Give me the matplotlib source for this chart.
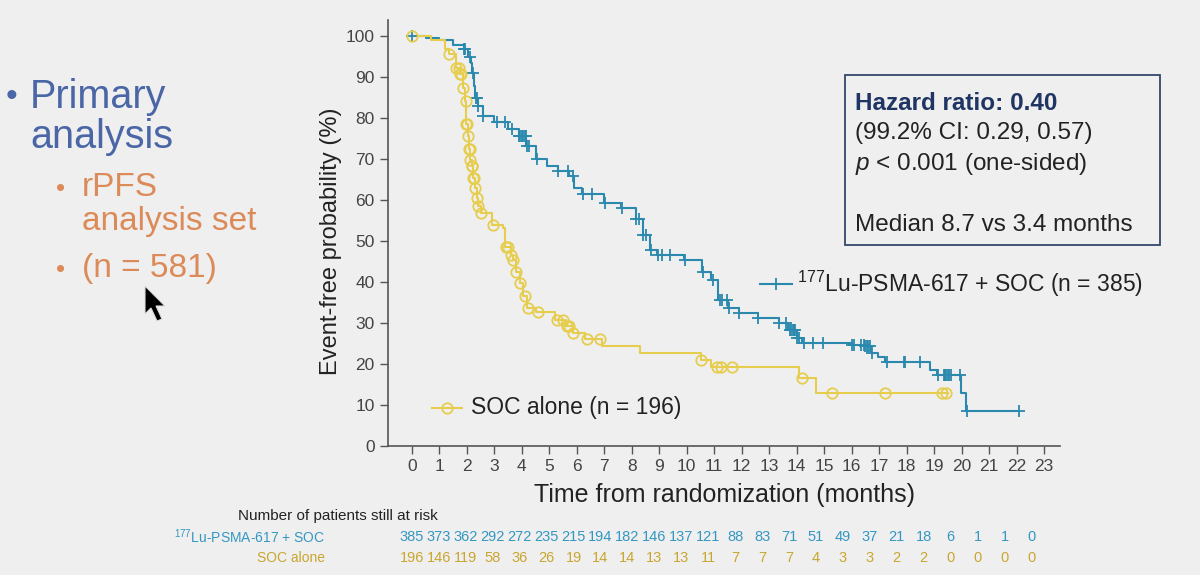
import numpy as np
import matplotlib
matplotlib.use("Agg")
import matplotlib.pyplot as plt
from matplotlib.patches import Rectangle, Polygon

plt.rcParams['font.family'] = ['Liberation Sans', 'DejaVu Sans']
plt.rcParams['mathtext.fontset'] = 'custom'
plt.rcParams['mathtext.rm'] = 'Liberation Sans'
plt.rcParams['mathtext.it'] = 'Liberation Sans:italic'

# ---- data ----
lu_times = [0, 0.5, 1.0, 1.5, 1.9, 2.05, 2.15, 2.2, 2.25, 2.3, 2.4, 2.6, 3.0, 3.5, 3.9,
            4.16, 4.5, 4.9, 5.3, 5.7, 5.9, 6.2, 7.0, 7.6, 8.15, 8.4, 8.65, 8.9, 9.9,
            10.57, 10.9, 11.15, 11.5, 11.9, 12.6, 13.35, 13.7, 14.0, 14.2, 16.0, 16.5,
            16.7, 16.97, 17.2, 18.85, 19.1, 19.97, 20.17]
lu_surv = [100, 99.5, 99, 98, 97, 95, 93.5, 91, 88, 85, 83, 80.5, 79, 77.5, 75.6,
           73.2, 70, 68.3, 67.1, 65.8, 63, 61.4, 59.3, 58.1, 55.3, 51.6, 47.9, 46.7, 45.5,
           42.6, 40.6, 35.7, 33.7, 32.4, 31.2, 30, 28.4, 26.3, 25.1, 24.7, 24.3,
           22.7, 21.8, 20.6, 18.6, 17.4, 12.9, 8.6]
lu_end = 22.1
lu_censor = [0, 1.9, 1.93, 2.1, 2.23, 2.33, 2.37, 2.41, 2.6, 3.08, 3.4, 3.63, 3.9, 3.95,
             4.0, 4.05, 4.1, 4.15, 4.2, 4.25, 4.54, 5.3, 5.69, 5.86, 6.22, 6.54, 7.02,
             7.63, 8.17, 8.25, 8.42, 8.5, 8.7, 8.95, 9.1, 9.4, 9.95, 10.6, 10.95, 11.2,
             11.3, 11.45, 11.55, 11.9, 12.6, 13.35, 13.6, 13.75, 13.8, 13.85, 13.9,
             13.95, 14.0, 14.1, 14.25, 14.6, 14.95, 16.0, 16.1, 16.35, 16.45, 16.5,
             16.55, 16.6, 16.65, 16.75, 17.27, 17.9, 17.95, 18.5, 19.15, 19.35, 19.4,
             19.45, 19.5, 19.55, 19.6, 19.95, 20.2, 22.1]

soc_times = [0, 0.7, 1.2, 1.35, 1.6, 1.75, 1.86, 1.93, 1.98, 2.04, 2.08, 2.13, 2.17,
             2.23, 2.29, 2.35, 2.41, 2.5, 2.9, 3.3, 3.4, 3.6, 3.68, 3.8, 3.93, 4.05,
             4.2, 4.5, 5.2, 5.6, 5.85, 6.3, 6.9, 8.3, 10.5, 10.9, 14.1, 14.7]
soc_surv = [100, 99, 97, 95.8, 92.3, 90.7, 87.4, 84.2, 78.5, 75.6, 72.4, 69.9, 68.3,
            65.4, 63, 60.6, 58.5, 56.9, 54, 53.2, 48.7, 46.7, 45.5, 42.6, 39.8, 36.5,
            33.7, 32.8, 30.8, 29.2, 27.6, 26.1, 24.3, 22.7, 21.0, 19.2, 16.6, 13.0]
soc_end = 19.5
soc_censor = [0, 1.35, 1.62, 1.7, 1.75, 1.8, 1.86, 1.96, 1.98, 2.0, 2.04, 2.08, 2.1,
              2.13, 2.17, 2.2, 2.23, 2.26, 2.29, 2.35, 2.41, 2.53, 2.95, 3.44, 3.5,
              3.62, 3.68, 3.8, 3.93, 4.11, 4.23, 4.6, 5.27, 5.5, 5.63, 5.7, 5.87, 6.36,
              6.84, 10.5, 11.1, 11.25, 11.65, 14.2, 15.3, 17.2, 19.3, 19.45]

months = list(range(24))
risk_lu = [385, 373, 362, 292, 272, 235, 215, 194, 182, 146, 137, 121, 88, 83, 71, 51,
           49, 37, 21, 18, 6, 1, 1, 0]
risk_soc = [196, 146, 119, 58, 36, 26, 19, 14, 14, 13, 13, 11, 7, 7, 7, 4, 3, 3, 2, 2,
            0, 0, 0, 0]

BLUE = '#2a89ad'
BLUE_TXT = '#3497c2'
YELLOW = '#e6cd4e'
YELLOW_TXT = '#c9a630'
BG = '#efefef'
GREY = '#555555'


def surv_at(times, surv, t):
    i = np.searchsorted(times, t, side='right') - 1
    return np.asarray(surv)[i]


fig = plt.figure(figsize=(12, 5.75), dpi=100, facecolor=BG)
W, H = 1200.0, 575.0
ax = fig.add_axes([388 / W, 1 - 446 / H, 672 / W, 426 / H])
ax.set_facecolor(BG)

for times, surv, end, cens, col, mk in [
        (lu_times, lu_surv, lu_end, lu_censor, BLUE, '+'),
        (soc_times, soc_surv, soc_end, soc_censor, YELLOW, 'o')]:
    tt = list(times) + [end]
    ss = list(surv) + [surv[-1]]
    ax.step(tt, ss, where='post', color=col, lw=1.5, zorder=3)
    cy = surv_at(times, surv, np.array(cens))
    if mk == '+':
        ax.plot(cens, cy, ls='none', marker='+', ms=9, mew=1.3, color=col, zorder=4)
    else:
        ax.plot(cens, cy, ls='none', marker='o', ms=7.5, mew=1.3, mfc='none',
                mec=col, zorder=4)

ax.set_xlim(-0.87, 23.58)
ax.set_ylim(0, 104)
ax.set_xticks(months)
ax.set_yticks(range(0, 101, 10))
ax.tick_params(colors=GREY, labelcolor='#444444', labelsize=12.5, length=6, width=1)
for s in ['top', 'right']:
    ax.spines[s].set_visible(False)
for s in ['left', 'bottom']:
    ax.spines[s].set_color(GREY)
    ax.spines[s].set_linewidth(1.2)
ax.set_ylabel('Event-free probability (%)', fontsize=17, color='#222222')
ax.yaxis.set_label_coords(-0.068, 0.481)
ax.set_xlabel('Time from randomization (months)', fontsize=18, color='#222222', labelpad=6)

# in-plot legends
ax.plot([12.67, 13.83], [39.5, 39.5], color=BLUE, lw=1.5)
ax.plot([13.25], [39.5], ls='none', marker='+', ms=9, mew=1.3, color=BLUE)
ax.text(14.0, 39.5, r'$^{177}$Lu-PSMA-617 + SOC (n = 385)', fontsize=16.5,
        color='#222222', va='center')
ax.plot([0.73, 1.82], [9.3, 9.3], color=YELLOW, lw=1.5)
ax.plot([1.27], [9.3], ls='none', marker='o', ms=7.5, mew=1.3, mfc='none', mec=YELLOW)
ax.text(2.15, 9.3, 'SOC alone (n = 196)', fontsize=16.5, color='#222222', va='center')

# hazard ratio box
fig.patches.append(Rectangle((845 / W, 1 - 245 / H), 315 / W, 170 / H,
                             transform=fig.transFigure, fill=False,
                             edgecolor='#34466b', lw=1.3))
fs_box = 17.5
fig.text(855 / W, 1 - 103 / H, 'Hazard ratio: 0.40', fontsize=fs_box, fontweight='bold',
         color='#1f3563', va='center')
fig.text(855 / W, 1 - 133 / H, '(99.2% CI: 0.29, 0.57)', fontsize=fs_box,
         color='#222222', va='center')
fig.text(855 / W, 1 - 164 / H, r'$p$ < 0.001 (one-sided)', fontsize=fs_box,
         color='#222222', va='center')
fig.text(855 / W, 1 - 225 / H, 'Median 8.7 vs 3.4 months', fontsize=fs_box,
         color='#222222', va='center')

# left bullets
fig.text(6 / W, 1 - 98 / H, '\u2022', fontsize=24, color='#4a66a6', va='center')
fig.text(30 / W, 1 - 97 / H, 'Primary', fontsize=28.5, color='#4a66a6', va='center')
fig.text(30 / W, 1 - 137 / H, 'analysis', fontsize=28.5, color='#4a66a6', va='center')
fig.text(56 / W, 1 - 189 / H, '\u2022', fontsize=19, color='#db8a58', va='center')
fig.text(82 / W, 1 - 188 / H, 'rPFS', fontsize=24, color='#db8a58', va='center')
fig.text(82 / W, 1 - 222 / H, 'analysis set', fontsize=24, color='#db8a58', va='center')
fig.text(56 / W, 1 - 270 / H, '\u2022', fontsize=19, color='#db8a58', va='center')
fig.text(82 / W, 1 - 268 / H, '(n = 581)', fontsize=24, color='#db8a58', va='center')

# mouse pointer
ptr = np.array([[145, 286], [145, 314], [151, 308], [157, 321], [162, 319],
                [156, 306], [165, 306]])
fig.patches.append(Polygon(np.column_stack([ptr[:, 0] / W, 1 - ptr[:, 1] / H]),
                           closed=True, transform=fig.transFigure,
                           facecolor='black', edgecolor='#dddddd', lw=0.8))

# number at risk table
fig.text(238 / W, 1 - 516 / H, 'Number of patients still at risk', fontsize=11,
         color='#222222', va='center')
fig.text(325 / W, 1 - 537 / H, r'$^{177}$Lu-PSMA-617 + SOC', fontsize=10,
         color=BLUE_TXT, va='center', ha='right')
fig.text(325 / W, 1 - 558 / H, 'SOC alone', fontsize=10,
         color=YELLOW_TXT, va='center', ha='right')
tr = ax.get_xaxis_transform()
for m, a, b in zip(months, risk_lu, risk_soc):
    ax.text(m * 0.98, -(537 - 446) / 426, str(a), transform=tr, ha='center',
            va='center', fontsize=10.5, color=BLUE_TXT, clip_on=False)
    ax.text(m * 0.98, -(558 - 446) / 426, str(b), transform=tr, ha='center',
            va='center', fontsize=10.5, color=YELLOW_TXT, clip_on=False)

fig.savefig('out.png', dpi=100, facecolor=BG)
